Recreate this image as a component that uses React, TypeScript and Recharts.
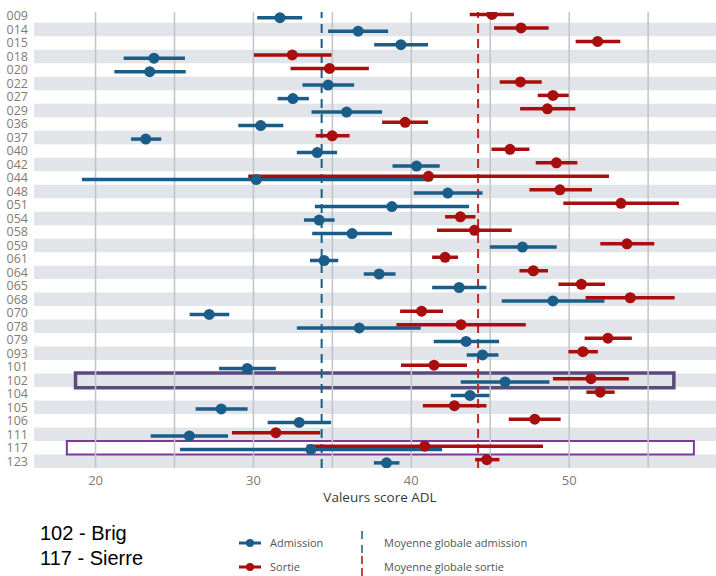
import React from 'react';
import { ComposedChart, Scatter, ErrorBar, XAxis, YAxis, ReferenceArea, ReferenceLine } from 'recharts';

const categories = ['009', '014', '015', '018', '020', '022', '027', '029', '036', '037', '040', '042', '044', '048', '051', '054', '058',
  '059', '061', '064', '065', '068', '070', '078', '079', '093', '101', '102', '104', '105', '106', '111', '117', '123'];

const admissionMean = [31.68, 36.63, 39.34, 23.7, 23.43, 34.73, 32.5, 35.9, 30.46, 23.18, 34.04, 40.33, 30.18, 42.31, 38.77, 34.16, 36.25,
  47.04, 34.48, 37.96, 43.03, 48.97, 27.2, 36.7, 43.47, 44.51, 29.61, 45.94, 43.72, 27.96, 32.9, 25.94, 33.64, 38.43];
const admissionLow = [30.24, 34.73, 37.65, 21.78, 21.19, 33.11, 31.53, 33.68, 29.04, 22.25, 32.75, 38.81, 19.13, 40.16, 33.89, 33.2, 33.72,
  44.97, 33.58, 36.99, 41.32, 45.73, 25.96, 32.75, 41.42, 43.51, 27.82, 43.13, 42.5, 26.34, 30.9, 23.49, 25.35, 37.63];
const admissionHigh = [33.09, 38.53, 41.06, 25.66, 25.71, 36.38, 33.51, 38.15, 31.89, 24.16, 35.3, 41.8, 41.28, 44.51, 43.66, 35.14, 38.78,
  49.21, 35.37, 39.0, 44.76, 52.23, 28.47, 40.6, 45.56, 45.52, 31.42, 48.75, 44.95, 29.63, 34.92, 28.39, 41.95, 39.25];

const sortieMean = [45.11, 46.95, 51.8, 32.46, 34.82, 46.91, 48.97, 48.62, 39.61, 34.99, 46.25, 49.19, 41.09, 49.41, 53.28, 43.11, 44.0,
  53.66, 42.14, 47.73, 50.77, 53.87, 40.65, 43.15, 52.45, 50.87, 41.44, 51.38, 51.97, 42.73, 47.82, 31.42, 40.85, 44.78];
const sortieLow = [43.7, 45.24, 50.41, 30.03, 32.35, 45.6, 48.01, 46.89, 38.15, 33.94, 45.08, 47.88, 29.67, 47.48, 49.63, 42.14, 41.63,
  51.97, 41.32, 46.85, 49.32, 51.04, 39.29, 39.06, 50.98, 49.95, 39.35, 48.97, 51.09, 40.73, 46.17, 28.64, 33.37, 44.04];
const sortieHigh = [46.5, 48.7, 53.24, 34.95, 37.31, 48.26, 49.97, 50.39, 41.06, 36.09, 47.48, 50.52, 52.52, 51.44, 56.95, 44.06, 46.36,
  55.39, 42.96, 48.66, 52.27, 56.68, 42.01, 47.25, 53.97, 51.82, 43.53, 53.78, 52.88, 44.76, 49.46, 34.23, 48.34, 45.58];

const meanAdmission = 34.32;
const meanSortie = 44.23;

const xTicks = [20, 25, 30, 35, 40, 45, 50, 55];

const BLUE = '#1a5d88';
const RED = '#a90e0e';
const LABEL = '#857a72';

const admissionData = categories.map((c, i) => ({
  row: i + 0.12,
  value: admissionMean[i],
  err: [admissionMean[i] - admissionLow[i], admissionHigh[i] - admissionMean[i]],
}));
const sortieData = categories.map((c, i) => ({
  row: i - 0.12,
  value: sortieMean[i],
  err: [sortieMean[i] - sortieLow[i], sortieHigh[i] - sortieMean[i]],
}));

const idx102 = categories.indexOf('102');
const idx117 = categories.indexOf('117');

const font = '"Open Sans", "DejaVu Sans", sans-serif';

export default function App() {
  return (
    <div style={{ position: 'absolute', left: 0, top: 0, width: 716, height: 576, background: '#fff' }}>
      <ComposedChart width={716} height={510} margin={{ top: 12, right: 0, left: 0, bottom: 0 }}>
        <XAxis
          type="number"
          dataKey="value"
          domain={[16.1, 59.3]}
          allowDataOverflow
          ticks={xTicks}
          tickFormatter={(v: number) => (v % 10 === 0 ? String(v) : '')}
          tickLine={false}
          axisLine={false}
          tickSize={0}
          tickMargin={8}
          height={42}
          tick={{ fill: LABEL, fontSize: 13, fontFamily: font }}
          label={{ value: 'Valeurs score ADL', position: 'insideBottom', offset: 8, dx: 5, fill: '#3a3a3a', fontSize: 13.5, fontFamily: font }}
        />
        <YAxis
          type="number"
          dataKey="row"
          reversed
          domain={[-0.3, 33.5]}
          allowDataOverflow
          ticks={categories.map((c, i) => i)}
          interval={0}
          tickFormatter={(v: number) => categories[v] ?? ''}
          tickLine={false}
          axisLine={false}
          tickSize={0}
          tickMargin={6}
          width={34}
          tick={{ fill: LABEL, fontSize: 12.5, fontFamily: font }}
        />
        {categories.map((c, i) =>
          i % 2 === 1 ? (
            <ReferenceArea key={'band' + c} y1={i - 0.5} y2={i + 0.5} fill="#e1e4e8" fillOpacity={1} stroke="none" ifOverflow="hidden" />
          ) : null
        )}
        {xTicks.map((t) => (
          <ReferenceLine key={'grid' + t} x={t} stroke="#c0c3c7" strokeWidth={1.5} />
        ))}
        <ReferenceLine x={meanAdmission} stroke={BLUE} strokeWidth={2} strokeDasharray="9 6" />
        <ReferenceLine x={meanSortie} stroke="#b52a2a" strokeWidth={2} strokeDasharray="9 6" />
        <Scatter
          data={admissionData}
          isAnimationActive={false}
          shape={(p: any) => <circle cx={p.cx} cy={p.cy} r={5.5} fill={BLUE} />}
        >
          <ErrorBar dataKey="err" direction="x" width={0} stroke={BLUE} strokeWidth={3.5} isAnimationActive={false} />
        </Scatter>
        <Scatter
          data={sortieData}
          isAnimationActive={false}
          shape={(p: any) => <circle cx={p.cx} cy={p.cy} r={5.5} fill={RED} />}
        >
          <ErrorBar dataKey="err" direction="x" width={0} stroke={RED} strokeWidth={3.5} isAnimationActive={false} />
        </Scatter>
        <ReferenceArea x1={18.73} x2={56.63} y1={idx102 - 0.55} y2={idx102 + 0.55} fill="none" stroke="#5b4a7d" strokeWidth={3.5} ifOverflow="visible" />
        <ReferenceArea x1={18.18} x2={57.9} y1={idx117 - 0.5} y2={idx117 + 0.5} fill="none" stroke="#7b3a96" strokeWidth={2} ifOverflow="visible" />
      </ComposedChart>
      <svg width={716} height={66} style={{ position: 'absolute', left: 0, top: 510 }}>
        <text x={40} y={30} fontSize={20} fontFamily='"Liberation Sans", Arial, sans-serif' fill="#000">102 - Brig</text>
        <text x={40} y={55} fontSize={20} fontFamily='"Liberation Sans", Arial, sans-serif' fill="#000">117 - Sierre</text>
        <line x1={239} x2={261} y1={33} y2={33} stroke={BLUE} strokeWidth={3} />
        <circle cx={250} cy={33} r={4} fill={BLUE} />
        <text x={270} y={37} fontSize={11} fontFamily={font} fill="#555">Admission</text>
        <line x1={239} x2={261} y1={57} y2={57} stroke={RED} strokeWidth={3} />
        <circle cx={250} cy={57} r={4} fill={RED} />
        <text x={270} y={61} fontSize={11} fontFamily={font} fill="#555">Sortie</text>
        <line x1={362} x2={362} y1={21} y2={44} stroke={BLUE} strokeWidth={1.5} strokeDasharray="8 6" />
        <line x1={362} x2={362} y1={46} y2={66} stroke={RED} strokeWidth={1.5} strokeDasharray="8 4" />
        <text x={384} y={37} fontSize={11} fontFamily={font} fill="#555">Moyenne globale admission</text>
        <text x={384} y={61} fontSize={11} fontFamily={font} fill="#555">Moyenne globale sortie</text>
      </svg>
    </div>
  );
}
